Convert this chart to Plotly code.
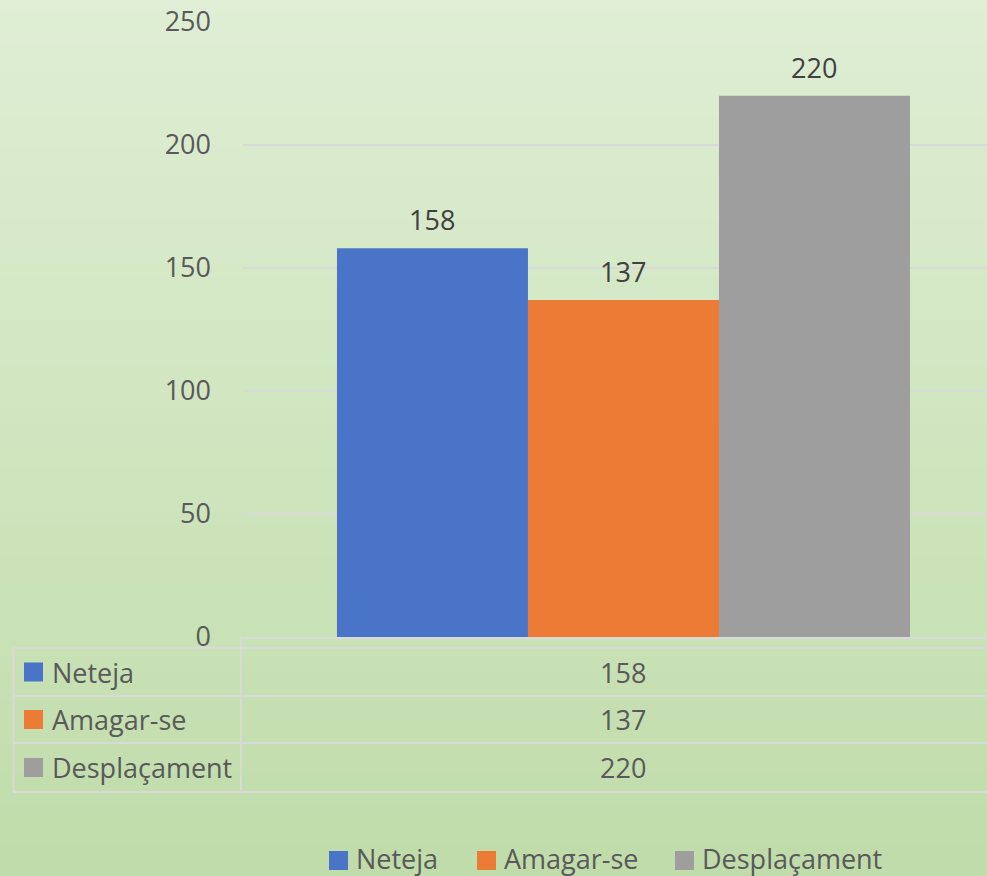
import plotly.graph_objects as go

# ---- data ----
series_names = ["Neteja", "Amagar-se", "Desplaçament"]
series_values = [158, 137, 220]
series_colors = ["#4a74c8", "#ec7b36", "#9e9e9e"]
y_ticks = [0, 50, 100, 150, 200, 250]

W, H = 987, 876
PL, PR, PT, PB = 243, 987, 22, 637  # plot area in px


def px(x):
    return (x - PL) / (PR - PL)


def py(y):
    return (PB - y) / (PB - PT)


FONT = "Open Sans"
FS = 27
TXT = "#595959"

fig = go.Figure()
for name, val, col in zip(series_names, series_values, series_colors):
    fig.add_trace(go.Bar(x=[0], y=[val], name=name, marker=dict(color=col, line=dict(width=0)),
                         showlegend=False, hoverinfo="name+y"))

shapes = []
annotations = []

# background gradient (styling only)
top_c = (223, 238, 212)
bot_c = (192, 220, 170)
N = 60
for i in range(N):
    t = i / (N - 1)
    c = tuple(int(round(top_c[k] + (bot_c[k] - top_c[k]) * t)) for k in range(3))
    y0 = H * i / N
    y1 = H * (i + 1) / N + 1
    shapes.append(dict(type="rect", xref="paper", yref="paper", x0=px(0), x1=px(W),
                       y0=py(y1), y1=py(y0), fillcolor="rgb(%d,%d,%d)" % c,
                       line=dict(width=0), layer="below"))

# data labels above bars
offsets = [-191, 0, 191]
for val, dx in zip(series_values, offsets):
    annotations.append(dict(x=0, y=val, xref="x", yref="y", text=str(val), showarrow=False,
                            xshift=dx, yshift=8, yanchor="bottom",
                            font=dict(family=FONT, size=FS, color="#404040")))

# data table
LINE = dict(color="#d9d9d9", width=2)
row_lines = [648, 696, 743, 792]
for yl in row_lines:
    shapes.append(dict(type="line", xref="paper", yref="paper", x0=px(13), x1=px(W),
                       y0=py(yl), y1=py(yl), line=LINE, layer="above"))
shapes.append(dict(type="line", xref="paper", yref="paper", x0=px(241), x1=px(241),
                   y0=py(637), y1=py(792), line=LINE))
shapes.append(dict(type="line", xref="paper", yref="paper", x0=px(13.5), x1=px(13.5),
                   y0=py(648), y1=py(792), line=LINE))
for i, (name, val, col) in enumerate(zip(series_names, series_values, series_colors)):
    y0, y1 = row_lines[i], row_lines[i + 1]
    yc = (y0 + y1) / 2
    shapes.append(dict(type="rect", xref="paper", yref="paper", x0=px(24), x1=px(43),
                       y0=py(yc + 9.5), y1=py(yc - 9.5), fillcolor=col, line=dict(width=0)))
    annotations.append(dict(x=px(50), y=py(yc), xref="paper", yref="paper", text=name,
                            showarrow=False, xanchor="left", yanchor="middle",
                            font=dict(family=FONT, size=FS, color=TXT)))
    annotations.append(dict(x=px(623), y=py(yc), xref="paper", yref="paper", text=str(val),
                            showarrow=False, xanchor="center", yanchor="middle",
                            font=dict(family=FONT, size=FS, color=TXT)))

# bottom legend
leg_sq_x = [329, 477, 675]
for name, col, sx in zip(series_names, series_colors, leg_sq_x):
    shapes.append(dict(type="rect", xref="paper", yref="paper", x0=px(sx), x1=px(sx + 19),
                       y0=py(870), y1=py(851), fillcolor=col, line=dict(width=0)))
    annotations.append(dict(x=px(sx + 25), y=py(859), xref="paper", yref="paper", text=name,
                            showarrow=False, xanchor="left", yanchor="middle",
                            font=dict(family=FONT, size=FS, color=TXT)))

fig.update_layout(
    width=W, height=H,
    margin=dict(l=PL, r=W - PR, t=PT, b=H - PB, pad=0),
    paper_bgcolor="rgb(210,229,193)",
    plot_bgcolor="rgba(0,0,0,0)",
    barmode="group", bargap=0.247, bargroupgap=0,
    shapes=shapes, annotations=annotations,
    showlegend=False,
    xaxis=dict(range=[-0.5, 0.4777], showticklabels=False, showgrid=False, zeroline=False,
               showline=True, linecolor="#d9d9d9", linewidth=2, fixedrange=True),
    yaxis=dict(range=[0, 250], tickvals=y_ticks, showgrid=True, gridcolor="#d9d9d9",
               gridwidth=1.5, zeroline=False, showline=False, ticks="",
               ticklabelstandoff=31, fixedrange=True,
               tickfont=dict(family=FONT, size=FS, color=TXT)),
)

fig.write_html("out.html", config={"displayModeBar": False},
               post_script="document.body.style.margin='0';document.body.style.overflow='hidden';")
